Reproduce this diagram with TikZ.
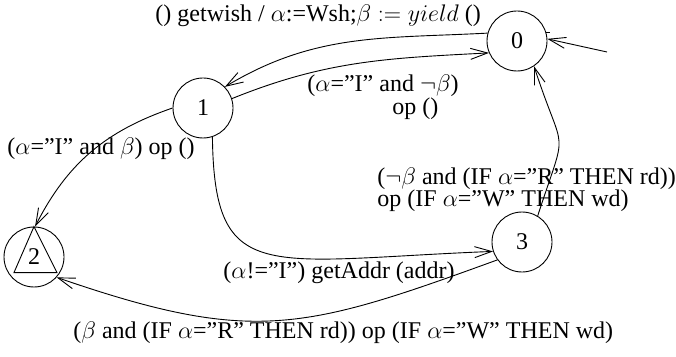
\documentclass[tikz,border=0pt]{standalone}
\usepackage{fix-cm}
\usepackage{fontspec}
\setmainfont{Liberation Serif}
\usetikzlibrary{arrows.meta}

\begin{document}
\begin{tikzpicture}[
    x=1pt, y=1pt,
    >={Straight Barb[length=17pt, width=11pt]},
    every node/.style={font=\fontsize{24}{21}\selectfont},
    state/.style={draw, circle, minimum size=60pt, inner sep=0pt},
    lbl/.style={anchor=base west, inner sep=0pt},
    line width=0.9pt
]
    \useasboundingbox (0,0) rectangle (676,356);

    % States
    \node[state] (s0) at (517,315) {0};
    \node[state] (s1) at (203,248) {1};
    \node[state] (s2) at (34,99) {2};
    \node[state] (s3) at (522,114) {3};
    \draw (s2.north) -- ++(-20,-46) -- ++(43,0) -- cycle;

    % Initial arrow
    \coordinate (init) at (607,304);
    \draw[->] (init) -- (s0.4);
    \draw (s0.17) -- ++(4,0);

    % Transitions
    \draw[->] (s0.165) to[out=183, in=31] (s1.44);
    \draw[->] (s1.18) to[out=22, in=183] (s0.203);
    \draw[->] (s1.180) to[out=199, in=63] (s2.88);
    \draw[->] (s1.-72) .. controls +(2,-150) and +(-228,-9) .. (s3.198);
    \draw[->] (s3.59) to[out=72, in=-72, looseness=1.7] (s0.-56);
    \draw[->] (s3.216) to[out=200, in=-19, looseness=1.2] (s2.-42);

    % Labels
    \node[lbl] (getwish) at (155,334) {() getwish / $\alpha$:=Wsh;$\beta := yield$ ()};
    \node[lbl] (opnotb) at (307,264) {($\alpha$=''I'' and $\neg\beta$)};
    \node[lbl] (opnotbb) at (392,241) {op ()};
    \node[lbl] (opb) at (7,201) {($\alpha$=''I'' and $\beta$) op ()};
    \node[lbl, align=left] (rwnotb) at (377,149) {($\neg\beta$ and (IF $\alpha$=''R'' THEN rd))\\op (IF $\alpha$=''W'' THEN wd)};
    \node[lbl] (getaddr) at (223,78) {($\alpha$!=''I'') getAddr (addr)};
    \node[lbl] (rdb) at (73,18) {($\beta$ and (IF $\alpha$=''R'' THEN rd)) op (IF $\alpha$=''W'' THEN wd)};

\end{tikzpicture}
\end{document}
